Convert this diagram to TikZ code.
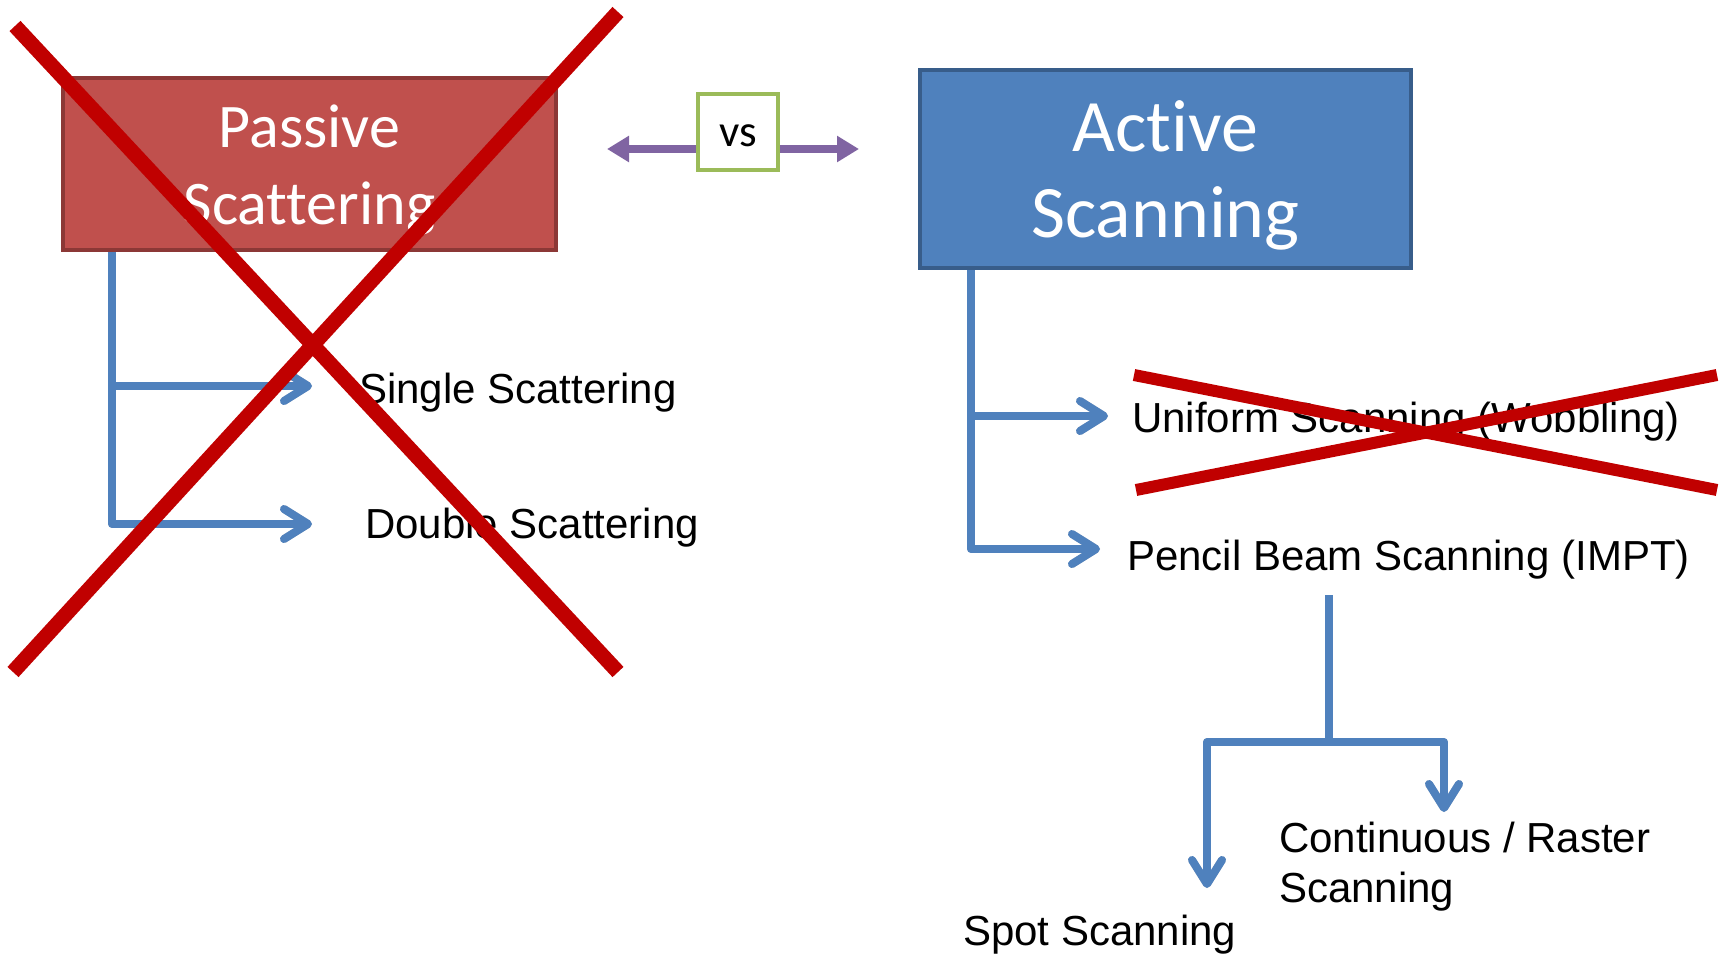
\documentclass[tikz,border=0pt]{standalone}
\usepackage{fontspec}
\setmainfont{Liberation Sans}
\newfontfamily\carlito{Carlito}[Ligatures={NoCommon}]
\usetikzlibrary{arrows.meta}
\definecolor{boxred}{HTML}{C0504D}
\definecolor{boxredline}{HTML}{8C3836}
\definecolor{boxblue}{HTML}{4F81BD}
\definecolor{boxblueline}{HTML}{385D8A}
\definecolor{crossred}{HTML}{C00000}
\definecolor{vsgreen}{HTML}{9BBB59}
\definecolor{vspurple}{HTML}{8064A2}
\begin{document}
\begin{tikzpicture}[x=1pt,y=-1pt,
  headbox/.style={line width=4pt, inner sep=0pt},
  headtxt/.style={align=center, text=white, inner sep=0pt},
  txt/.style={anchor=base west, inner sep=0pt, font=\fontsize{42}{50}\selectfont},
  shadowed/.style={draw=black!55, opacity=0.3, line width=8pt, line join=round,
    -{Straight Barb[length=24pt,width=30pt,round]}},
  branch/.style={draw=boxblue, line width=8pt, line join=round,
    -{Straight Barb[length=24pt,width=30pt,round]}},
  parrow/.style={draw=vspurple, line width=8pt, -{Triangle[length=22pt,width=25pt]}},
  crossline/.style={draw=crossred, line width=15pt},
]
\useasboundingbox (0,0) rectangle (1721,956);

% coordinates for connector ends
\coordinate (pstem) at (112,0);
\coordinate (ta) at (312,386);
\coordinate (tb) at (312,524);
\coordinate (astem) at (971,0);
\coordinate (tc) at (1108,416);
\coordinate (td) at (1100,549);
\coordinate (ptop) at (1329,595);
\coordinate (jn) at (1329,742);
\coordinate (tl) at (1207,888);
\coordinate (tr) at (1444,812);
\coordinate (pl) at (607,149);
\coordinate (pr) at (859,149);

% soft shadows of the connectors
\begin{scope}[shift={(3,4)}]
\draw[shadowed] (pstem |- 0,250) |- (tb);
\draw[shadowed] (pstem |- ta) -- (ta);
\draw[shadowed] (astem |- 0,268) |- (td);
\draw[shadowed] (astem |- tc) -- (tc);
\draw[shadowed] (ptop) -- (jn) -| (tl);
\draw[shadowed] (jn) -| (tr);
\end{scope}

% trees (drawn below the boxes)
\draw[branch] (pstem |- 0,250) |- (tb);
\draw[branch] (pstem |- ta) -- (ta);
\draw[branch] (astem |- 0,268) |- (td);
\draw[branch] (astem |- tc) -- (tc);

% head boxes
\node[headbox, fill=boxred, draw=boxredline, minimum width=493pt, minimum height=172pt] (passive) at (309.5,164) {};
\node[headtxt, font=\carlito\fontsize{62}{77}\selectfont] (passivetxt) at ([yshift=-6pt]passive.center) {Passive\\Scattering};
\node[headbox, fill=boxblue, draw=boxblueline, minimum width=491pt, minimum height=198pt] (active) at (1165.5,169) {};
\node[headtxt, font=\carlito\fontsize{74}{86}\selectfont] (activetxt) at ([yshift=-6pt]active.center) {Active\\Scanning};

% vs box and arrows
\draw[parrow] (pl -| 740,0) -- (pl);
\draw[parrow] (pr -| 740,0) -- (pr);
\node[draw=vsgreen, line width=4pt, fill=white, minimum width=80pt, minimum height=76pt,
      inner sep=0pt] (vs) at (738,132) {};
\node[inner sep=0pt, font=\carlito\fontsize{45}{54}\selectfont] (vstxt) at ([yshift=-4pt]vs.center) {vs};

% texts
\node[txt] (single) at (359,403) {Single Scattering};
\node[txt] (double) at (365,538) {Double Scattering};
\node[txt] (uniform) at (1132,432) {Uniform Scanning (Wobbling)};
\node[txt] (pencil) at (1127,570) {Pencil Beam Scanning (IMPT)};
\node[txt, anchor=west, align=left] (cont) at (1279,867) {Continuous / Raster\\Scanning};
\node[txt] (spot) at (963,945) {Spot Scanning};

% sub branches
\draw[branch] (ptop) -- (jn) -| (tl);
\draw[branch] (jn) -| (tr);

% crosses
\draw[crossline] (15,26) -- (618,672);
\draw[crossline] (618,12) -- (13,672);
\draw[crossline, line width=12pt] (1134,375) -- (1717,490);
\draw[crossline, line width=12pt] (1136,490) -- (1717,375);
\end{tikzpicture}
\end{document}
